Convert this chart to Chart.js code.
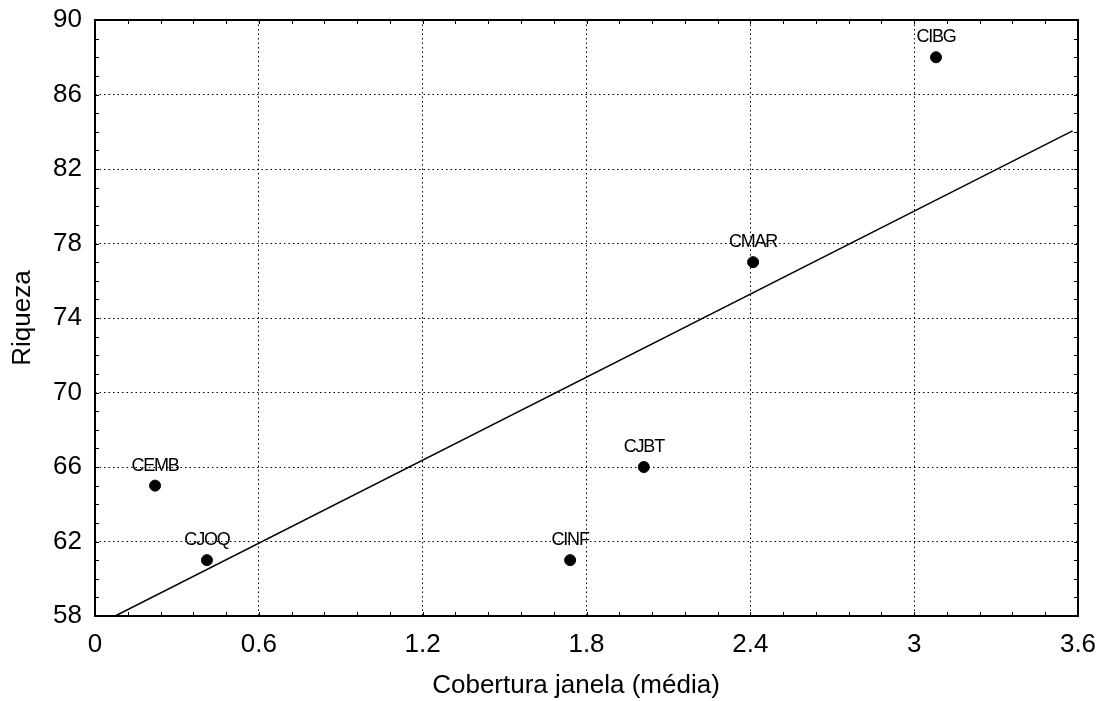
<!DOCTYPE html>
<html>
<head>
<meta charset="utf-8">
<script src="https://cdn.jsdelivr.net/npm/chart.js@4.4.0/dist/chart.umd.min.js"></script>
<style>
  html, body { margin: 0; padding: 0; background: #fff; }
  #wrap { width: 1103px; height: 701px; position: relative; }
</style>
</head>
<body>
<div id="wrap"><canvas id="c" width="1103" height="701"></canvas></div>
<script>
// ---- Data ----
const siteNames = ["CEMB", "CJOQ", "CINF", "CJBT", "CMAR", "CIBG"];
const coberturaValues = [0.22, 0.41, 1.74, 2.01, 2.41, 3.08];
const riquezaValues = [65, 61, 61, 66, 77, 88];
// fitted line endpoints
const fitLineX = [0.074, 3.58];
const fitLineY = [58, 84.05];
const xTickValues = [0, 0.6, 1.2, 1.8, 2.4, 3, 3.6];
const xTickLabels = ["0", "0.6", "1.2", "1.8", "2.4", "3", "3.6"];
const yTickValues = [58, 62, 66, 70, 74, 78, 82, 86, 90];
const yTickLabels = ["58", "62", "66", "70", "74", "78", "82", "86", "90"];
const xTitle = "Cobertura janela (média)";
const yTitle = "Riqueza";
const xMinorStep = 0.12;
const yMinorStep = 1;

const FONT = "Arial, 'Liberation Sans', sans-serif";

const points = coberturaValues.map((x, i) => ({ x: x, y: riquezaValues[i] }));
const linePts = fitLineX.map((x, i) => ({ x: x, y: fitLineY[i] }));

const framePlugin = {
  id: 'frame',
  afterDatasetsDraw(chart) {
    const ctx = chart.ctx;
    const ca = chart.chartArea;
    const xs = chart.scales.x, ys = chart.scales.y;
    ctx.save();
    ctx.strokeStyle = '#000';
    ctx.lineWidth = 1;
    ctx.beginPath();
    const tl = 4;
    for (let v = xs.min; v <= xs.max + 1e-9; v += xMinorStep) {
      const px = Math.round(xs.getPixelForValue(v)) + 0.5;
      ctx.moveTo(px, ca.bottom); ctx.lineTo(px, ca.bottom - tl);
      ctx.moveTo(px, ca.top); ctx.lineTo(px, ca.top + tl);
    }
    for (let v = ys.min; v <= ys.max + 1e-9; v += yMinorStep) {
      const py = Math.round(ys.getPixelForValue(v)) + 0.5;
      ctx.moveTo(ca.left, py); ctx.lineTo(ca.left + tl, py);
      ctx.moveTo(ca.right, py); ctx.lineTo(ca.right - tl, py);
    }
    ctx.stroke();
    ctx.lineWidth = 2;
    ctx.strokeRect(ca.left, ca.top, ca.right - ca.left, ca.bottom - ca.top);
    // x axis title
    ctx.fillStyle = '#000';
    ctx.font = "26px " + FONT;
    ctx.textAlign = 'center';
    ctx.textBaseline = 'alphabetic';
    ctx.fillText(xTitle, 576, 693);
    // point labels
    const meta = chart.getDatasetMeta(1);
    ctx.font = "18px " + FONT;
    try { ctx.letterSpacing = '-1.2px'; } catch (e) {}
    meta.data.forEach((el, i) => {
      ctx.fillText(siteNames[i], el.x, el.y - 15);
    });
    ctx.restore();
  }
};

const gridColor = (c) => {
  const v = c.tick ? c.tick.value : null;
  const s = c.scale;
  if (v === null) return '#000';
  if (Math.abs(v - s.min) < 1e-9 || Math.abs(v - s.max) < 1e-9) return 'rgba(0,0,0,0)';
  return '#000';
};

new Chart(document.getElementById('c'), {
  data: {
    datasets: [
      {
        type: 'line',
        data: linePts,
        borderColor: '#000',
        borderWidth: 1.5,
        pointRadius: 0,
        fill: false,
        tension: 0
      },
      {
        type: 'scatter',
        data: points,
        backgroundColor: '#000',
        borderColor: '#000',
        pointRadius: 5.5,
        borderWidth: 1
      }
    ]
  },
  options: {
    responsive: false,
    animation: false,
    devicePixelRatio: 1,
    layout: { padding: { top: 20, right: 25, left: 0, bottom: 0 } },
    plugins: { legend: { display: false }, tooltip: { enabled: false } },
    scales: {
      x: {
        type: 'linear',
        min: 0, max: 3.6,
        afterBuildTicks: (s) => { s.ticks = xTickValues.map(v => ({ value: v })); },
        afterFit: (s) => { s.height = 85; s.paddingLeft = 0; s.paddingRight = 0; },
        ticks: {
          autoSkip: false,
          maxRotation: 0,
          padding: 13,
          color: '#000',
          font: { family: FONT, size: 26 },
          callback: (v) => { const i = xTickValues.indexOf(v); return i >= 0 ? xTickLabels[i] : ''; }
        },
        grid: { color: gridColor, lineWidth: 1, drawTicks: false },
        border: { display: false, dash: [1.5, 3] },
        title: { display: false }
      },
      y: {
        type: 'linear',
        min: 58, max: 90,
        afterBuildTicks: (s) => { s.ticks = yTickValues.map(v => ({ value: v })); },
        afterFit: (s) => { s.width = 95; s.paddingTop = 0; s.paddingBottom = 0; },
        ticks: {
          autoSkip: false,
          padding: 13,
          color: '#000',
          font: { family: FONT, size: 26 },
          callback: (v) => { const i = yTickValues.indexOf(v); return i >= 0 ? yTickLabels[i] : ''; }
        },
        grid: { color: gridColor, lineWidth: 1, drawTicks: false },
        border: { display: false, dash: [1.5, 3] },
        title: {
          display: true,
          text: yTitle,
          color: '#000',
          font: { family: FONT, size: 26 },
          padding: { top: 7, bottom: 0 }
        }
      }
    }
  },
  plugins: [framePlugin]
});
</script>
</body>
</html>
